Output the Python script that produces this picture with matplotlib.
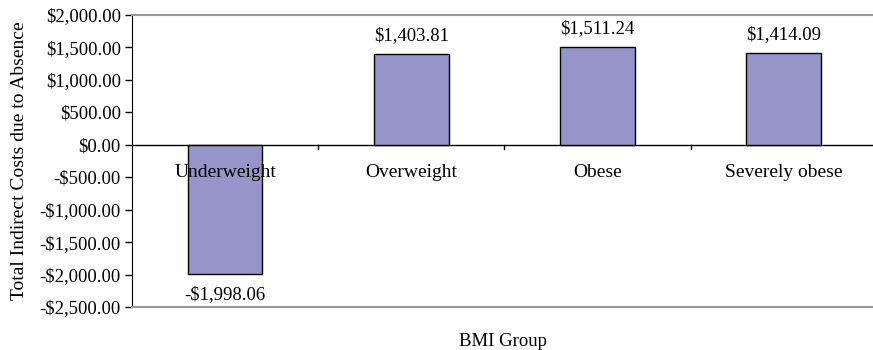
import numpy as np
import matplotlib.pyplot as plt
from matplotlib.ticker import FuncFormatter

plt.rcParams['font.family'] = ['Liberation Serif', 'DejaVu Serif']

groups = ['Underweight', 'Overweight', 'Obese', 'Severely obese']
costs = [-1998.06, 1403.81, 1511.24, 1414.09]
yticks = [-2500, -2000, -1500, -1000, -500, 0, 500, 1000, 1500, 2000]


def money(v, pos=None):
    s = '${:,.2f}'.format(abs(v))
    return '-' + s if v < 0 else s


fig = plt.figure(figsize=(8.73, 3.5), dpi=100)
W, H = 873, 350
ax = fig.add_axes([132 / W, 1 - 307 / H, 741 / W, 292 / H])

x = np.arange(len(groups))
bars = ax.bar(x, costs, width=0.4, color='#9595C9', edgecolor='black', linewidth=1, zorder=2)

ax.set_xlim(-0.5, 3.5 - 0.02)
ax.set_ylim(-2500, 2000)
ax.set_yticks(yticks)
ax.yaxis.set_major_formatter(FuncFormatter(money))
ax.tick_params(axis='y', direction='out', length=5, width=1, labelsize=13.5, pad=3)

# category axis at zero
ax.set_xticks([])
ax.axhline(0, color='black', linewidth=1, zorder=1)
for b in np.arange(0.5, len(groups) - 0.5, 1.0):
    ax.plot([b, b], [0, -60], color='black', linewidth=1, zorder=1, clip_on=False)
for xi, g in zip(x, groups):
    ax.text(xi, -300, g, ha='center', va='top', fontsize=14, zorder=3)

for xi, v in zip(x, costs):
    if v >= 0:
        ax.text(xi, v + 150, money(v), ha='center', va='bottom', fontsize=13.5)
    else:
        ax.text(xi, v - 180, money(v), ha='center', va='top', fontsize=13.5)

ax.spines['right'].set_visible(False)
ax.spines['top'].set_color('#999999')
ax.spines['bottom'].set_color('#999999')
ax.spines['top'].set_linewidth(1.5)
ax.spines['bottom'].set_linewidth(1.5)
ax.spines['left'].set_color('black')

ax.set_ylabel('Total Indirect Costs due to Absence', fontsize=14)
ax.yaxis.set_label_coords(-0.141, 0.5)
fig.text(503 / W, 1 - 341 / H, 'BMI Group', ha='center', va='center', fontsize=13.5)

fig.savefig('out.png', dpi=100)
